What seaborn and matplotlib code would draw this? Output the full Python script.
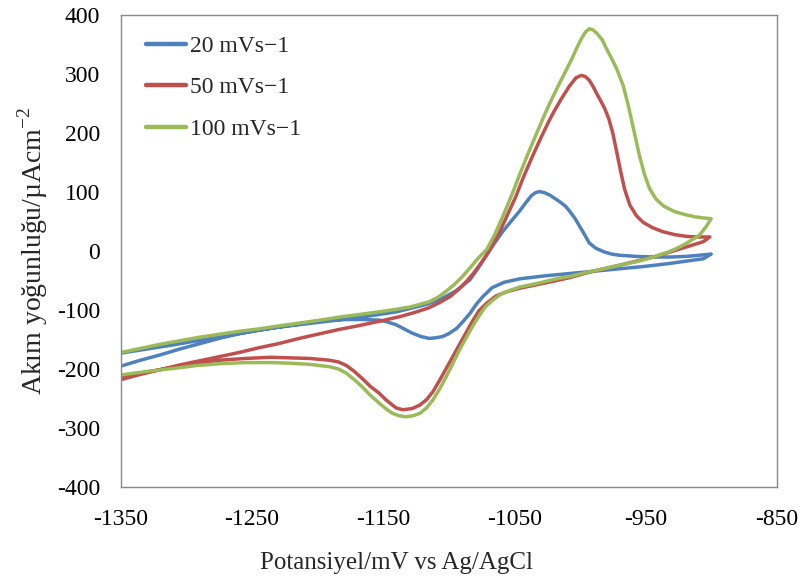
import pandas as pd
import seaborn as sns
import matplotlib
matplotlib.use("Agg")
import matplotlib.pyplot as plt

# Cyclic voltammograms: potential (mV) vs current density (uA/cm2).
# Each loop: anodic sweep -1350 -> -900, then back along the cathodic sweep.
blue_x = [-1350, -1335, -1320, -1305, -1290, -1275, -1260, -1245, -1230, -1215, -1200, -1185,
          -1170, -1155, -1140, -1127, -1115, -1105, -1095, -1084, -1077, -1071, -1065, -1059,
          -1052, -1046, -1041, -1037, -1034, -1031, -1027, -1023, -1019, -1015, -1011, -1008,
          -1004, -1000, -996, -993, -988, -982, -976, -970, -957, -944, -931, -919, -909, -900,
          -906, -919, -932, -951, -970, -989, -1008, -1027, -1046, -1058, -1067, -1074, -1079,
          -1084, -1089, -1094, -1100, -1105, -1110, -1115, -1121, -1128, -1134, -1140, -1147,
          -1153, -1165, -1180, -1191, -1206, -1221, -1236, -1255, -1275, -1292, -1310, -1330, -1350]
blue_y = [-195, -185, -176, -166, -157, -148, -140, -134, -129, -125, -121, -117,
          -113, -108, -103, -96, -89, -80, -68, -49, -27, -6, 14, 33,
          52, 68, 83, 94, 99, 101, 99, 95, 89, 83, 76, 68,
          56, 41, 26, 14, 5, -1, -5, -7, -9, -10, -10, -9, -7, -5,
          -13, -17, -21, -26, -30, -34, -38, -42, -47, -53, -62, -77, -90,
          -106, -119, -131, -140, -145, -147, -148, -145, -139, -132, -125, -120,
          -117, -116, -116, -117, -121, -126, -131, -138, -146, -152, -159, -166, -173]

red_x = [-1350, -1335, -1320, -1305, -1290, -1275, -1260, -1245, -1230, -1214, -1198, -1184,
         -1170, -1153, -1137, -1126, -1115, -1106, -1099, -1092, -1086, -1081, -1075, -1069,
         -1062, -1056, -1049, -1043, -1036, -1029, -1024, -1020, -1014, -1008, -1003, -999,
         -996, -993, -990, -987, -984, -981, -978, -975, -972, -969, -966, -962, -957, -952,
         -945, -937, -928, -919, -910, -901,
         -906, -919, -932, -944, -957, -970, -982, -995, -1008, -1020, -1033, -1046, -1056,
         -1064, -1071, -1077, -1082, -1087, -1092, -1097, -1102, -1107, -1112, -1117, -1122,
         -1128, -1135, -1140, -1143, -1148, -1153, -1160, -1166, -1172, -1178, -1184, -1191,
         -1206, -1221, -1236, -1255, -1275, -1292, -1310, -1330, -1350]
red_y = [-218, -209, -201, -193, -186, -179, -172, -164, -157, -148, -140, -133,
         -127, -119, -111, -104, -96, -86, -77, -64, -50, -37, -19, 1,
         29, 58, 92, 126, 162, 196, 219, 236, 259, 280, 294, 298,
         296, 290, 279, 266, 254, 241, 224, 200, 168, 135, 105, 78, 60, 49,
         40, 33, 28, 25, 24, 24,
         16, 7, -2, -10, -17, -24, -30, -37, -45, -51, -57, -63, -69,
         -76, -88, -101, -119, -139, -159, -179, -199, -219, -238, -252, -261,
         -267, -269, -266, -261, -252, -241, -229, -216, -204, -194, -188, -185,
         -182, -181, -180, -182, -185, -190, -197, -205, -215]

green_x = [-1350, -1335, -1320, -1305, -1290, -1275, -1260, -1245, -1230, -1214, -1198, -1184,
           -1170, -1150, -1130, -1115, -1108, -1102, -1096, -1090, -1084, -1078, -1071, -1065,
           -1059, -1052, -1046, -1040, -1033, -1028, -1023, -1016, -1010, -1006, -1003, -999,
           -996, -993, -990, -987, -983, -980, -976, -972, -967, -963, -959, -955, -951, -947,
           -942, -936, -928, -920, -912, -905, -900,
           -904, -909, -914, -919, -925, -932, -944, -957, -970, -982, -995, -1008, -1020,
           -1033, -1046, -1054, -1061, -1067, -1072, -1077, -1082, -1087, -1092, -1097, -1102,
           -1107, -1112, -1117, -1122, -1127, -1133, -1138, -1143, -1148, -1153, -1160, -1166,
           -1172, -1178, -1184, -1191, -1206, -1221, -1236, -1255, -1275, -1292, -1310, -1330, -1350]
green_y = [-172, -165, -158, -152, -146, -141, -136, -132, -127, -122, -117, -112,
           -108, -102, -95, -86, -78, -68, -57, -44, -29, -13, 3, 28,
           58, 95, 130, 163, 200, 226, 251, 283, 309, 327, 342, 360,
           371, 377, 375, 369, 358, 344, 327, 309, 280, 245, 205, 165, 131, 106,
           88, 76, 67, 62, 58, 56, 55,
           41, 27, 20, 13, 6, -1, -10, -18, -24, -30, -36, -43, -48,
           -55, -61, -67, -74, -84, -94, -110, -128, -148, -168, -191, -213,
           -234, -252, -266, -275, -279, -281, -279, -275, -267, -258, -244, -230,
           -218, -207, -200, -196, -192, -190, -189, -189, -191, -194, -199, -204, -210]

labels = ["20 mVs\u22121", "50 mVs\u22121", "100 mVs\u22121"]
colors = ["#4F81BD", "#C0504D", "#9BBB59"]

df = pd.concat([
    pd.DataFrame({"E": blue_x, "j": blue_y, "scan": labels[0]}),
    pd.DataFrame({"E": red_x, "j": red_y, "scan": labels[1]}),
    pd.DataFrame({"E": green_x, "j": green_y, "scan": labels[2]}),
])

sns.set_style("white")
plt.rcParams["font.family"] = ["Liberation Serif", "DejaVu Serif"]
plt.rcParams["mathtext.fontset"] = "custom"
plt.rcParams["mathtext.rm"] = "Liberation Serif"

fig = plt.figure(figsize=(8, 5.85), dpi=100)
ax = fig.add_axes([0.151, 0.1675, 0.82, 0.8065])

sns.lineplot(data=df, x="E", y="j", hue="scan", palette=colors, sort=False,
             estimator=None, units="scan", linewidth=2.5, ax=ax)

ax.set_xlim(-1350, -850)
ax.set_ylim(-400, 400)
ax.set_xticks(range(-1350, -849, 100))
ax.set_yticks(range(-400, 401, 100))
ax.set_xticklabels([str(v) for v in range(-1350, -849, 100)])
ax.set_yticklabels([str(v) for v in range(-400, 401, 100)])

for s in ax.spines.values():
    s.set_color("#898989")
    s.set_linewidth(1.0)
ax.tick_params(axis="both", which="major", direction="out", length=5, width=1,
               color="#898989", labelsize=17, labelcolor="black")
ax.tick_params(axis="x", pad=11)
ax.tick_params(axis="y", pad=10)

ax.set_xlabel("Potansiyel/mV vs Ag/AgCl", fontsize=18)
ax.set_ylabel("Akım yoğunluğu/µAcm$^{-2}$", fontsize=20)
ax.xaxis.set_label_coords(0.42, -0.138)
ax.yaxis.set_label_coords(-0.108, 0.5)

leg = ax.legend(loc="upper left", bbox_to_anchor=(0.008, 1.0), frameon=False, fontsize=17,
                handlelength=1.7, handletextpad=0.15, labelspacing=0.85, borderaxespad=0.45)
for line in leg.get_lines():
    line.set_linewidth(3.2)

fig.savefig("out.png", dpi=100)
